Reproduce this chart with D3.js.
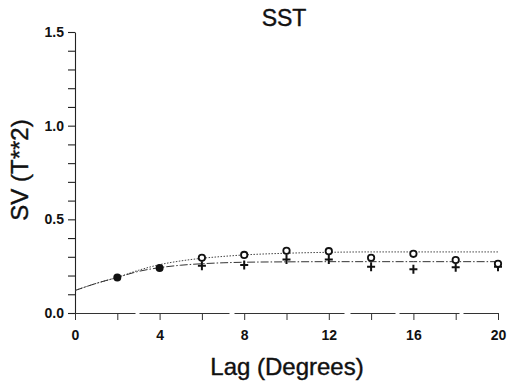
<!DOCTYPE html>
<html>
<head>
<meta charset="utf-8">
<script src="https://cdn.jsdelivr.net/npm/d3@7"></script>
<style>
  body { margin: 0; background: white; }
  text { font-family: "Liberation Sans", Arial, sans-serif; }
</style>
</head>
<body>
<div class="draw"></div>
<script>
const width = 509
const height = 389

// data
const fitLags = [0, 1, 2, 3, 4, 5, 6, 7, 8, 10, 12, 14, 16, 18, 20]
const fitUpper = [0.12, 0.158, 0.19, 0.228, 0.258, 0.278, 0.292, 0.302, 0.31, 0.319, 0.324, 0.326, 0.326, 0.326, 0.326]
const fitLower = [0.12, 0.158, 0.19, 0.222, 0.242, 0.255, 0.263, 0.268, 0.271, 0.273, 0.274, 0.274, 0.274, 0.274, 0.274]

const filledLags = [2, 4]
const filledVals = [0.19, 0.24]

const openLags = [6, 8, 10, 12, 14, 16, 18, 20]
const openVals = [0.295, 0.31, 0.332, 0.33, 0.295, 0.316, 0.283, 0.263]

const plusLags = [6, 8, 10, 12, 14, 16, 18, 20]
const plusVals = [0.252, 0.256, 0.286, 0.286, 0.247, 0.233, 0.244, 0.247]

const yTicks = d3.range(0, 1.51, 0.1)
const xTicks = d3.range(0, 21, 2)

let svg = d3.select("div.draw")
    .append("svg")
    .attr("width", width)
    .attr("height", height)

let x = d3.scaleLinear().domain([0, 20]).range([75, 498])
let y = d3.scaleLinear().domain([0, 1.5]).range([313, 32])

// y axis
let yAxis = d3.axisLeft(y)
    .tickValues(yTicks)
    .tickSize(7)
    .tickSizeOuter(0)
    .tickFormat((d) => Math.abs(d * 2 - Math.round(d * 2)) < 1e-6 ? d3.format(".1f")(d) : "")

let gy = svg.append("g")
    .attr("transform", "translate(75,0)")
    .call(yAxis)
gy.selectAll("path, line").attr("stroke", "#222").attr("stroke-width", 1.1)
gy.selectAll("text")
    .attr("x", -11)
    .style("font-size", "14px")
    .style("font-weight", "bold")
    .attr("fill", "#111")

// x axis
let xAxis = d3.axisBottom(x)
    .tickValues(xTicks)
    .tickSize(7)
    .tickSizeOuter(0)
    .tickFormat((d) => d % 4 === 0 ? d : "")

let gx = svg.append("g")
    .attr("transform", "translate(0,313)")
    .call(xAxis)
gx.select("path.domain")
    .attr("stroke", "#333")
    .attr("stroke-dasharray", "60,4,90,5,110,6,45,4")
gx.selectAll("line").attr("stroke", "#333")
gx.selectAll("text")
    .attr("y", 17)
    .style("font-size", "14px")
    .style("font-weight", "bold")
    .attr("fill", "#111")

// fitted curves
let line = d3.line()
    .x((d) => x(d[0]))
    .y((d) => y(d[1]))
    .curve(d3.curveMonotoneX)

svg.append("path")
    .datum(d3.zip(fitLags, fitUpper))
    .attr("d", line)
    .attr("fill", "none")
    .attr("stroke", "#444")
    .attr("stroke-width", 1)
    .attr("stroke-dasharray", "1.5,1.5")

svg.append("path")
    .datum(d3.zip(fitLags, fitLower))
    .attr("d", line)
    .attr("fill", "none")
    .attr("stroke", "#333")
    .attr("stroke-width", 1)
    .attr("stroke-dasharray", "8,2,1.5,2")

// markers
svg.selectAll("circle.filled")
    .data(d3.zip(filledLags, filledVals))
    .enter()
    .append("circle")
    .attr("class", "filled")
    .attr("cx", (d) => x(d[0]))
    .attr("cy", (d) => y(d[1]))
    .attr("r", 4)
    .attr("fill", "#111")

svg.selectAll("g.plus")
    .data(d3.zip(plusLags, plusVals))
    .enter()
    .append("path")
    .attr("class", "plus")
    .attr("d", (d) => {
      let p = d3.path()
      let cx = x(d[0]), cy = y(d[1])
      p.moveTo(cx - 4, cy)
      p.lineTo(cx + 4, cy)
      p.moveTo(cx, cy - 4.5)
      p.lineTo(cx, cy + 4.5)
      return p.toString()
    })
    .attr("stroke", "#111")
    .attr("stroke-width", 2)

svg.selectAll("circle.open")
    .data(d3.zip(openLags, openVals))
    .enter()
    .append("circle")
    .attr("class", "open")
    .attr("cx", (d) => x(d[0]))
    .attr("cy", (d) => y(d[1]))
    .attr("r", 3.2)
    .attr("fill", "white")
    .attr("stroke", "#111")
    .attr("stroke-width", 1.8)

// titles
svg.append("text")
    .attr("x", 284)
    .attr("y", 26)
    .attr("text-anchor", "middle")
    .style("font-size", "23px")
    .attr("fill", "#111")
    .attr("stroke", "#111")
    .attr("stroke-width", 0.4)
    .text("SST")

svg.append("text")
    .attr("x", 287)
    .attr("y", 375)
    .attr("text-anchor", "middle")
    .style("font-size", "24px")
    .attr("fill", "#111")
    .attr("stroke", "#111")
    .attr("stroke-width", 0.4)
    .text("Lag (Degrees)")

svg.append("text")
    .attr("transform", "translate(28,170) rotate(-90)")
    .attr("text-anchor", "middle")
    .style("font-size", "24px")
    .attr("fill", "#111")
    .attr("stroke", "#111")
    .attr("stroke-width", 0.4)
    .text("SV (T**2)")
</script>
</body>
</html>
